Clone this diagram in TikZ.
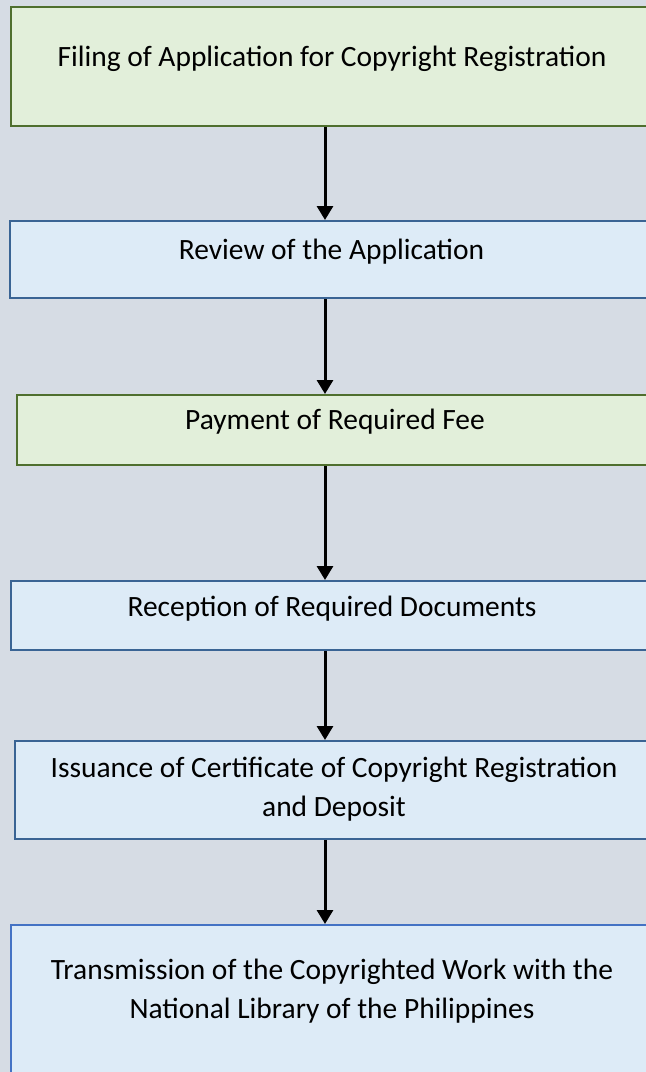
\documentclass[tikz,border=0pt]{standalone}
\usepackage{fontspec}
\setmainfont{Carlito}
\usepackage{tikz}
\usetikzlibrary{arrows.meta,positioning}
\definecolor{bgcol}{HTML}{D6DCE4}
\definecolor{grnfill}{HTML}{E2EFDA}
\definecolor{grnline}{HTML}{4F6F2E}
\definecolor{blufill}{HTML}{DDEBF7}
\definecolor{bluline}{HTML}{3A6494}
\definecolor{lastline}{HTML}{4472C4}

\begin{document}
\begin{tikzpicture}[x=0.75pt,y=-0.75pt,>={Triangle[length=10.5pt,width=12pt]},
  box/.style={rectangle,anchor=north west,inner sep=0pt,align=center,
    line width=1.5pt,font=\fontsize{22.1pt}{29pt}\selectfont},
  green/.style={box,draw=grnline,fill=grnfill},
  blue/.style={box,draw=bluline,fill=blufill}]
  \fill[bgcol] (0,0) rectangle (646,1072);
  \clip (0,0) rectangle (646,1072);
  \coordinate (spine) at (325,0);

  \node[green, minimum width=481.5pt, minimum height=89.25pt,
        text height=44.25pt, text depth=45pt]
        (filing)  at (10,6)   {Filing of Application for Copyright Registration};
  \node[blue, minimum width=482.25pt, minimum height=57.75pt,
        text height=28.5pt, text depth=29.25pt]
        (review)  at (9,220)  {Review of the Application};
  \node[green, minimum width=477pt, minimum height=52.5pt,
        text height=25.5pt, text depth=27pt]
        (payment) at (16,394) {Payment of Required Fee};
  \node[blue, minimum width=481.5pt, minimum height=51.75pt,
        text height=26.25pt, text depth=25.5pt]
        (docs)    at (10,580) {Reception of Required Documents};
  \node[blue, minimum width=478.5pt, minimum height=73.5pt,
        text height=56.25pt, text depth=17.25pt]
        (cert)    at (14,740) {Issuance of Certificate of Copyright Registration\\and Deposit};
  \node[blue, draw=lastline, minimum width=481.5pt, minimum height=120.75pt,
        text height=69.75pt, text depth=51pt]
        (library) at (10,924) {Transmission of the Copyrighted Work with the\\National Library of the Philippines};

  \path[->, line width=2.25pt]
        (filing.south -| spine)  edge (review.north -| spine)
        (review.south -| spine)  edge (payment.north -| spine)
        (payment.south -| spine) edge (docs.north -| spine)
        (docs.south -| spine)    edge (cert.north -| spine)
        (cert.south -| spine)    edge (library.north -| spine);
\end{tikzpicture}
\end{document}
